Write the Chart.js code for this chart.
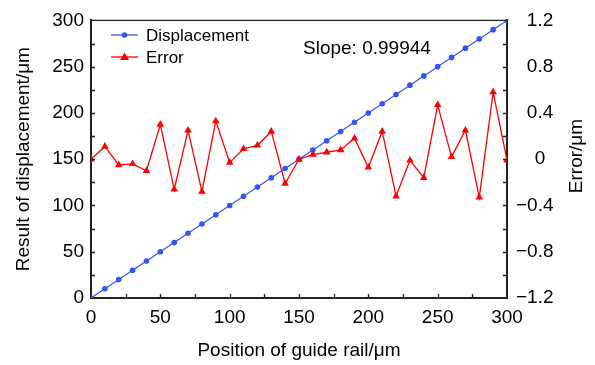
<!DOCTYPE html>
<html>
<head>
<meta charset="utf-8">
<script src="https://cdn.jsdelivr.net/npm/chart.js@4.4.1/dist/chart.umd.min.js"></script>
<style>
  html, body { margin: 0; padding: 0; background: #fff; }
</style>
</head>
<body>
<canvas id="chart" width="595" height="365"></canvas>
<script>
const positions = [0, 10, 20, 30, 40, 50, 60, 70, 80, 90, 100, 110, 120, 130, 140, 150,
  160, 170, 180, 190, 200, 210, 220, 230, 240, 250, 260, 270, 280, 290, 300];
const displacement = [0, 10, 20, 30, 40, 50, 60, 70, 80, 90, 100, 110, 120, 130, 140, 150,
  160, 170, 180, 190, 200, 210, 220, 230, 240, 250, 260, 270, 280, 290, 300];
const errorValues = [0, 0.11, -0.05, -0.04, -0.10, 0.30, -0.26, 0.25, -0.28, 0.33, -0.03,
  0.09, 0.12, 0.24, -0.21, 0, 0.04, 0.06, 0.08, 0.18, -0.07, 0.24, -0.32, -0.01, -0.16,
  0.47, 0.02, 0.25, -0.33, 0.58, -0.01];
const slopeText = 'Slope: 0.99944';

const FONT = "'Liberation Sans', Arial, sans-serif";
const AXIS = '#222';
const BLUE = '#3355f5';
const RED = '#ff0000';

// inward ticks, top border, legend, slope note and right title
const decorations = {
  id: 'decorations',
  afterDraw(chart) {
    const ctx = chart.ctx;
    const { left, right, top, bottom } = chart.chartArea;
    const sx = chart.scales.x, sy = chart.scales.y, sy1 = chart.scales.y1;
    ctx.save();
    ctx.strokeStyle = AXIS;
    ctx.lineWidth = 1.3;
    ctx.beginPath();
    ctx.moveTo(left, top);
    ctx.lineTo(right, top);
    sx.ticks.forEach(t => {
      if (t.value <= 0 || t.value >= 300) return;
      const p = Math.round(sx.getPixelForValue(t.value)) + 0.5;
      ctx.moveTo(p, bottom); ctx.lineTo(p, bottom - 4);
    });
    sy.ticks.forEach(t => {
      if (t.value <= 0 || t.value >= 300) return;
      const p = Math.round(sy.getPixelForValue(t.value)) + 0.5;
      ctx.moveTo(left, p); ctx.lineTo(left + 4, p);
    });
    sy1.ticks.forEach(t => {
      if (t.value <= -1.19 || t.value >= 1.19) return;
      const p = Math.round(sy1.getPixelForValue(t.value)) + 0.5;
      ctx.moveTo(right, p); ctx.lineTo(right - 4, p);
    });
    ctx.stroke();

    // legend
    ctx.font = '17px ' + FONT;
    ctx.textBaseline = 'middle';
    ctx.textAlign = 'left';
    chart.data.datasets.forEach(ds => {
      const y = ds.label === 'Displacement' ? 35 : 57;
      ctx.strokeStyle = ds.borderColor;
      ctx.lineWidth = 1.3;
      ctx.beginPath();
      ctx.moveTo(111, y); ctx.lineTo(138, y);
      ctx.stroke();
      ctx.fillStyle = ds.borderColor;
      ctx.beginPath();
      if (ds.pointStyle === 'triangle') {
        ctx.moveTo(124.5, y - 4.5); ctx.lineTo(129, y + 3); ctx.lineTo(120, y + 3);
      } else {
        ctx.arc(124.5, y, 2.8, 0, Math.PI * 2);
      }
      ctx.fill();
      ctx.fillStyle = '#000';
      ctx.fillText(ds.label, 146, y + 1);
    });

    ctx.font = '19px ' + FONT;
    ctx.fillText(slopeText, 303, 49);

    ctx.translate(577, 156);
    ctx.rotate(-Math.PI / 2);
    ctx.textAlign = 'center';
    ctx.fillText('Error/μm', 0, 0);
    ctx.restore();
  }
};

const noGrid = { display: false, drawTicks: false, tickLength: 0 };

const ctx = document.getElementById('chart').getContext('2d');
new Chart(ctx, {
  type: 'line',
  data: {
    datasets: [
      {
        label: 'Error',
        data: positions.map((x, i) => ({ x: x, y: errorValues[i] })),
        yAxisID: 'y1',
        borderColor: RED,
        backgroundColor: RED,
        borderWidth: 1.3,
        pointStyle: 'triangle',
        pointRadius: 4.4,
        pointBorderWidth: 0,
        tension: 0,
        order: 0
      },
      {
        label: 'Displacement',
        data: positions.map((x, i) => ({ x: x, y: displacement[i] })),
        yAxisID: 'y',
        borderColor: BLUE,
        backgroundColor: BLUE,
        borderWidth: 1.2,
        pointStyle: 'circle',
        pointRadius: 2.8,
        pointBorderWidth: 0,
        tension: 0,
        order: 1
      }
    ]
  },
  options: {
    responsive: false,
    animation: false,
    devicePixelRatio: 1,
    layout: { padding: { top: 15, left: 0, right: 0, bottom: 0 } },
    plugins: { legend: { display: false }, tooltip: { enabled: false } },
    scales: {
      x: {
        type: 'linear',
        min: 0, max: 300,
        grid: noGrid,
        border: { display: true, color: AXIS, width: 2 },
        ticks: {
          stepSize: 25,
          padding: 8,
          color: '#000',
          font: { family: FONT, size: 19 },
          maxRotation: 0,
          autoSkip: false,
          callback: v => (v % 50 === 0 ? String(v) : '')
        },
        title: {
          display: true,
          text: 'Position of guide rail/μm',
          color: '#000',
          font: { family: FONT, size: 19 },
          padding: { top: 0, bottom: 3 }
        },
        afterFit: s => { s.height = 67; }
      },
      y: {
        position: 'left',
        min: 0, max: 300,
        grid: noGrid,
        border: { display: true, color: AXIS, width: 2 },
        ticks: {
          stepSize: 25,
          padding: 7,
          color: '#000',
          font: { family: FONT, size: 19 },
          autoSkip: false,
          callback: v => (v % 50 === 0 ? String(v) : '')
        },
        title: {
          display: true,
          text: 'Result of displacement/μm',
          color: '#000',
          font: { family: FONT, size: 19 },
          padding: { top: 12, bottom: 0 }
        },
        afterFit: s => { s.width = 91; }
      },
      y1: {
        position: 'right',
        min: -1.2, max: 1.2,
        grid: noGrid,
        border: { display: true, color: AXIS, width: 2 },
        ticks: {
          stepSize: 0.2,
          padding: 9,
          crossAlign: 'center',
          color: '#000',
          font: { family: FONT, size: 19 },
          autoSkip: false,
          callback: v => {
            const k = Math.round(v * 10);
            if (k % 4 !== 0) return '';
            if (k === 0) return '0';
            if (k < 0) return '\u2212' + (Math.abs(k) / 10).toFixed(1) + '  ';
            return (k / 10).toFixed(1);
          }
        },
        afterFit: s => { s.width = 88; }
      }
    }
  },
  plugins: [decorations]
});
</script>
</body>
</html>
